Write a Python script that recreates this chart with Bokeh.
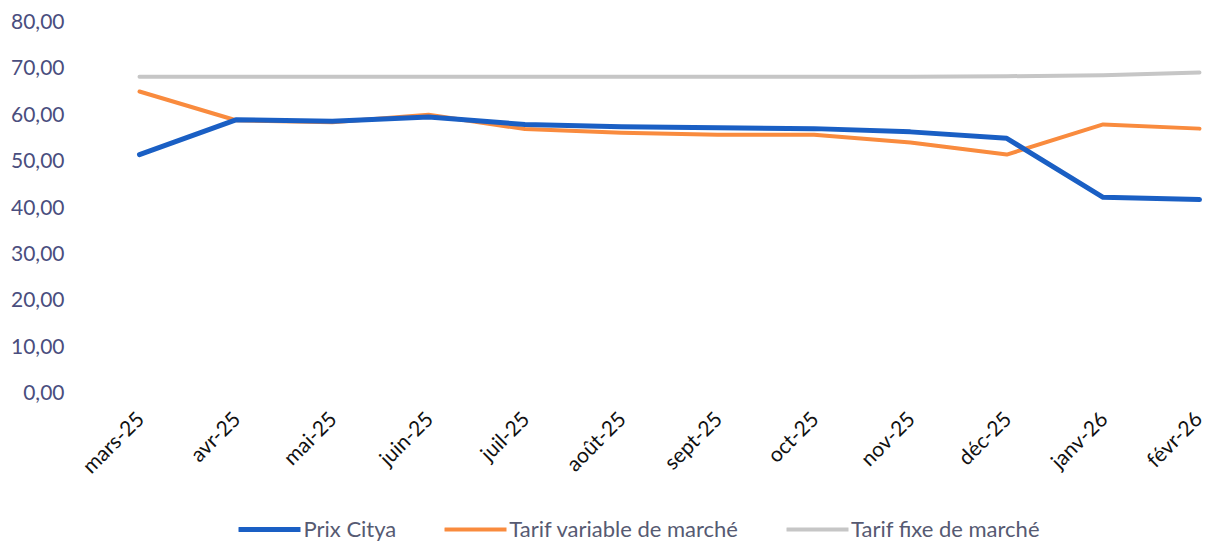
from math import pi
from bokeh.plotting import figure
from bokeh.layouts import column
from bokeh.models import FixedTicker, Legend, LegendItem, Range1d
from bokeh.embed import file_html
from bokeh.resources import INLINE

months = ["mars-25", "avr-25", "mai-25", "juin-25", "juil-25", "août-25",
          "sept-25", "oct-25", "nov-25", "déc-25", "janv-26", "févr-26"]
prix_citya = [51.3, 58.8, 58.5, 59.4, 57.8, 57.3, 57.1, 56.9, 56.2, 54.8, 42.1, 41.6]
tarif_variable = [64.9, 58.7, 58.3, 59.9, 56.8, 56.0, 55.6, 55.6, 53.9, 51.3, 57.8, 56.9]
tarif_fixe = [68.1, 68.1, 68.1, 68.1, 68.1, 68.1, 68.1, 68.1, 68.1, 68.2, 68.4, 69.0]
y_ticks = [0, 10, 20, 30, 40, 50, 60, 70, 80]
y_labels = ["0,00", "10,00", "20,00", "30,00", "40,00", "50,00", "60,00", "70,00", "80,00"]
series_names = ["Prix Citya", "Tarif variable de marché", "Tarif fixe de marché"]

colors = ["#1a5fc4", "#f98b3e", "#c6c6c6"]
widths = [5, 4, 4]
series = [prix_citya, tarif_variable, tarif_fixe]

xs = list(range(len(months)))

p = figure(width=1206, height=500, output_backend="svg", toolbar_location=None,
           x_range=Range1d(-0.6745, 11.052), y_range=Range1d(0, 80),
           min_border_left=74, min_border_right=2, min_border_top=21,
           min_border_bottom=108)
p.outline_line_color = None
p.background_fill_color = "white"
p.border_fill_color = "white"
p.xgrid.visible = False
p.ygrid.visible = False

for i in [2, 1, 0]:
    p.line(xs, series[i], line_color=colors[i], line_width=widths[i],
           line_join="round", line_cap="round")

# y axis
p.yaxis.ticker = FixedTicker(ticks=y_ticks)
p.yaxis.major_label_overrides = {t: l for t, l in zip(y_ticks, y_labels)}
p.yaxis.axis_line_color = None
p.yaxis.major_tick_line_color = None
p.yaxis.minor_tick_line_color = None
p.yaxis.major_tick_out = 0
p.yaxis.major_tick_in = 0
p.yaxis.major_label_text_font = "Lato"
p.yaxis.major_label_text_font_size = "21px"
p.yaxis.major_label_text_color = "#4a4e7e"
p.yaxis.major_label_standoff = 10

# x axis
p.xaxis.ticker = FixedTicker(ticks=xs)
p.xaxis.major_label_overrides = {i: m for i, m in enumerate(months)}
p.xaxis.axis_line_color = None
p.xaxis.major_tick_line_color = None
p.xaxis.minor_tick_line_color = None
p.xaxis.major_tick_out = 0
p.xaxis.major_tick_in = 0
p.xaxis.major_label_orientation = pi / 4
p.xaxis.major_label_text_font = "Lato"
p.xaxis.major_label_text_font_size = "21px"
p.xaxis.major_label_text_color = "#111111"
p.xaxis.major_label_standoff = 22

# legend strip (separate figure; its lines lie outside its visible range)
pl = figure(width=1206, height=42, output_backend="svg", toolbar_location=None,
            x_range=Range1d(100, 101), y_range=Range1d(100, 101),
            x_axis_type=None, y_axis_type=None,
            min_border_left=74, min_border_right=2, min_border_top=0,
            min_border_bottom=0)
pl.outline_line_color = None
pl.xgrid.visible = False
pl.ygrid.visible = False
items = []
for i in range(3):
    r = pl.line(xs, series[i], line_color=colors[i], line_width=widths[i], line_cap="round")
    items.append(LegendItem(label=series_names[i], renderers=[r]))

legend = Legend(items=items, orientation="horizontal", location="bottom_center")
legend.padding = 0
legend.margin = 0
legend.spacing = 48
legend.glyph_width = 62
legend.glyph_height = 16
legend.label_height = 16
legend.label_standoff = 3
legend.label_text_font = "Lato"
legend.label_text_font_size = "22px"
legend.label_text_color = "#565a72"
legend.border_line_color = None
legend.background_fill_alpha = 0
pl.add_layout(legend, "center")

layout = column(p, pl, spacing=0)
open("out.html", "w").write(file_html(layout, INLINE))
